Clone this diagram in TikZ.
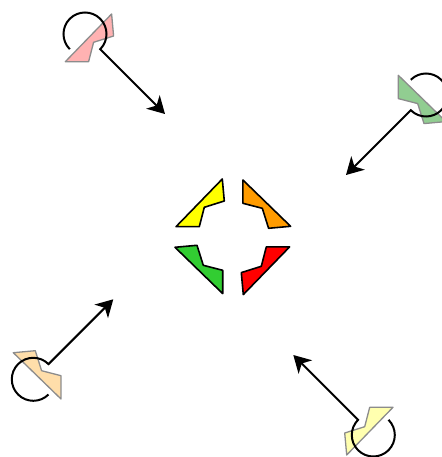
\documentclass[tikz,border=0pt]{standalone}
\usepackage{tikz}
\usetikzlibrary{arrows.meta}
\definecolor{pyel}{RGB}{255,255,0}
\definecolor{porg}{RGB}{255,155,0}
\definecolor{pred}{RGB}{255,0,0}
\definecolor{pgrn}{RGB}{50,205,50}
\definecolor{lyel}{RGB}{255,255,175}
\definecolor{lorg}{RGB}{255,222,170}
\definecolor{lred}{RGB}{255,178,178}
\definecolor{lgrn}{RGB}{145,205,145}

\begin{document}
\begin{tikzpicture}[x=1pt,y=1pt,>={Stealth[length=17pt,width=19pt,inset=5pt]},
 piece/.style={draw=black,line width=1.6pt,line join=round,fill=#1},
 ghost/.style={draw=black!45,line width=1.3pt,line join=round,fill=#1},
 turn/.style={->,line width=2pt}]
\useasboundingbox (-232.8,-220.2) rectangle (208.2,236.8);
\foreach \a/\c in {0/pyel,-90/porg,-180/pred,-270/pgrn}
 \draw[piece=\c,rotate=\a] (-10.5,57.8) -- (-8.5,35.8) -- (-28.5,29.5) -- (-33.5,10.1) -- (-56.8,10.1) -- cycle;
\foreach \a/\x/\y/\c/\k in {0/-67.8/122.8/lred/0,-90/113.2/61.8/lgrn/1,-180/60.5/-118.2/lyel/2,-270/-119.5/-62.5/lorg/3} {
 \begin{scope}[shift={(\x,\y)},rotate=\a]
 \draw[ghost=\c] (-53.4,100) -- (-51.4,78) -- (-71.4,71.7) -- (-76.4,52.3) -- (-99.7,52.3) -- cycle;
 \coordinate (tip\k) at (0,0);
 \coordinate (rot\k) at (-80,80);
 \draw[turn] (rot\k) ++(225:21.5) arc[start angle=225,end angle=-45,radius=21.5] -- (tip\k);
 \end{scope}}
\end{tikzpicture}
\end{document}
